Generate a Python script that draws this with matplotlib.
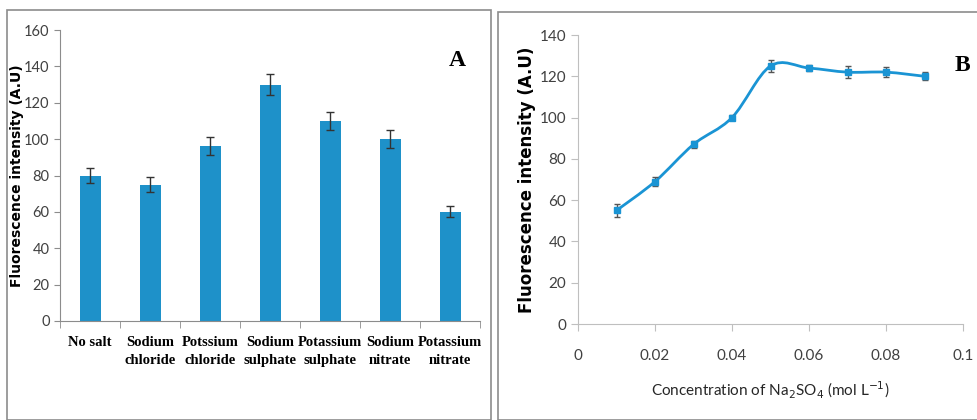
import matplotlib.pyplot as plt
from matplotlib.path import Path
from matplotlib.patches import PathPatch, Rectangle

# panel A data
salts = ['No salt', 'Sodium\nchloride', 'Potssium\nchloride', 'Sodium\nsulphate',
         'Potassium\nsulphate', 'Sodium\nnitrate', 'Potassium\nnitrate']
salt_intensity = [80, 75, 96, 130, 110, 100, 60]
salt_err = [4, 4, 5, 6, 5, 5, 3]

# panel B data
conc = [0.01, 0.02, 0.03, 0.04, 0.05, 0.06, 0.07, 0.08, 0.09]
conc_intensity = [55, 69, 87, 100, 125, 124, 122, 122, 120]
conc_err = [3, 2, 1.5, 1.2, 3, 1.5, 3, 2.5, 2]

BAR = '#1E91C9'
LINE = '#1A94D4'
TICK_FONT = 'Lato'


def smooth_path(x, y, t=0.5):
    """Catmull-Rom style bezier path through the points (like Excel smoothing)."""
    verts = [(x[0], y[0])]
    codes = [Path.MOVETO]
    n = len(x)
    for i in range(n - 1):
        x0, y0 = (x[i - 1], y[i - 1]) if i > 0 else (x[i], y[i])
        x3, y3 = (x[i + 2], y[i + 2]) if i + 2 < n else (x[i + 1], y[i + 1])
        c1 = (x[i] + (x[i + 1] - x0) * t / 3, y[i] + (y[i + 1] - y0) * t / 3)
        c2 = (x[i + 1] - (x3 - x[i]) * t / 3, y[i + 1] - (y3 - y[i]) * t / 3)
        verts += [c1, c2, (x[i + 1], y[i + 1])]
        codes += [Path.CURVE4] * 3
    return Path(verts, codes)


fig = plt.figure(figsize=(9.77, 4.2), dpi=100)

# panel frames
fig.patches.append(Rectangle((7 / 977, 0), 484 / 977, 1 - 10 / 420, transform=fig.transFigure,
                             fill=False, edgecolor='#8c8c8c', lw=1.2))
fig.patches.append(Rectangle((498 / 977, 0), 480 / 977, 1 - 12 / 420, transform=fig.transFigure,
                             fill=False, edgecolor='#8c8c8c', lw=1.2))

# ---- panel A ----
ax1 = fig.add_axes([60 / 977, 1 - 321 / 420, 420 / 977, 291 / 420])
pos = list(range(len(salts)))
ax1.bar(pos, salt_intensity, width=0.35, color=BAR, zorder=2)
ax1.errorbar(pos, salt_intensity, yerr=salt_err, fmt='none', ecolor='#333333',
             elinewidth=1, capsize=3, capthick=1, zorder=3)
ax1.set_xlim(-0.5, len(salts) - 0.5)
ax1.set_ylim(0, 160)
ax1.set_yticks(range(0, 161, 20))
ax1.set_xticks(pos)
ax1.set_xticklabels(salts, fontfamily='Liberation Serif', fontweight='bold', fontsize=10.5,
                    linespacing=1.45)
ax1.set_xticks([p + 0.5 for p in [-1] + pos], minor=True)
ax1.tick_params(axis='x', which='major', length=0, pad=11)
ax1.tick_params(axis='x', which='minor', length=5, color='#8c8c8c', direction='out')
ax1.tick_params(axis='y', length=4, color='#8c8c8c', labelsize=10.5, labelcolor='#404040')
for lab in ax1.get_yticklabels():
    lab.set_fontfamily(TICK_FONT)
for side in ['top', 'right']:
    ax1.spines[side].set_visible(False)
for side in ['left', 'bottom']:
    ax1.spines[side].set_color('#8c8c8c')
ax1.set_ylabel('Fluorescence intensity (A.U)', fontsize=10, fontweight='bold', va='center')
ax1.yaxis.set_label_coords(-0.102, 0.5)
ax1.text(0.965, 0.93, 'A', transform=ax1.transAxes, fontfamily='Liberation Serif',
         fontweight='bold', fontsize=17, ha='right', va='top')

# ---- panel B ----
ax2 = fig.add_axes([578 / 977, 1 - 324 / 420, 385 / 977, 289 / 420])
ax2.add_patch(PathPatch(smooth_path(conc, conc_intensity), fill=False, edgecolor=LINE,
                        lw=2, zorder=2))
ax2.errorbar(conc, conc_intensity, yerr=conc_err, fmt='s', ms=4, color=LINE,
             ecolor='#555555', elinewidth=1, capsize=2.5, capthick=1, zorder=3)
ax2.set_xlim(0, 0.1)
ax2.set_ylim(0, 140)
ax2.set_xticks([0, 0.02, 0.04, 0.06, 0.08, 0.1])
ax2.set_xticklabels(['0', '0.02', '0.04', '0.06', '0.08', '0.1'])
ax2.set_yticks(range(0, 141, 20))
ax2.tick_params(length=5, color='#bfbfbf', labelsize=11, labelcolor='#404040')
ax2.tick_params(axis='x', pad=13)
for lab in ax2.get_xticklabels() + ax2.get_yticklabels():
    lab.set_fontfamily(TICK_FONT)
for side in ['top', 'right']:
    ax2.spines[side].set_visible(False)
for side in ['left', 'bottom']:
    ax2.spines[side].set_color('#bfbfbf')
ax2.set_xlabel(r'Concentration of Na$_2$SO$_4$ (mol L$^{-1}$)', fontsize=11,
               fontfamily=TICK_FONT, color='#262626', labelpad=12)
ax2.set_ylabel('Fluorescence intensity (A.U)', fontsize=12, fontweight='bold', va='center')
ax2.yaxis.set_label_coords(-0.132, 0.5)
ax2.text(1.02, 0.93, 'B', transform=ax2.transAxes, fontfamily='Liberation Serif',
         fontweight='bold', fontsize=17, ha='right', va='top')

plt.savefig('out.png', dpi=100)
